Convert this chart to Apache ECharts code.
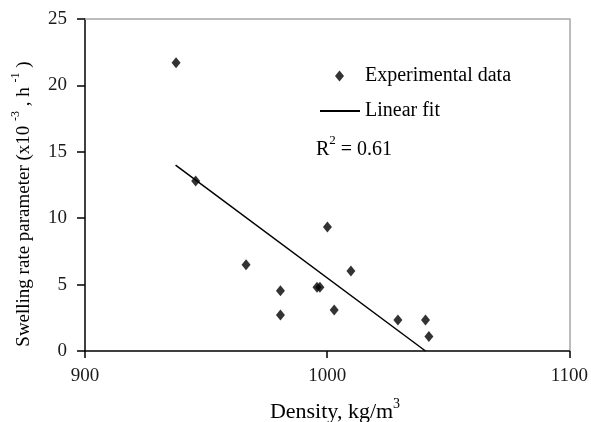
<!DOCTYPE html>
<html><head><meta charset="utf-8">
<script src="https://cdn.jsdelivr.net/npm/echarts@6/dist/echarts.min.js"></script>
<style>html,body{margin:0;padding:0;background:#fff}#c{width:591px;height:422px}</style>
</head><body><div id="c"></div>
<script>
const densities = [937.6, 945.7, 966.5, 980.7, 980.7, 995.8, 997.0, 1000.1, 1002.9, 1009.8, 1029.2, 1040.6, 1042.0];
const swelling  = [21.7, 12.8, 6.5, 4.54, 2.71, 4.8, 4.8, 9.34, 3.09, 6.02, 2.33, 2.33, 1.1];
const fitX = [937.4, 1040.6];
const fitY = [14.0, 0];
const xTicks = [900, 1000, 1100];
const yTicks = [0, 5, 10, 15, 20, 25];

const FONT = '"Liberation Serif", "Times New Roman", serif';
const chart = echarts.init(document.getElementById('c'), null, {renderer: 'canvas'});
chart.setOption({
  animation: false,
  backgroundColor: '#fff',
  textStyle: {fontFamily: FONT, color: '#000'},
  grid: {left: 85, right: 20, top: 19, bottom: 71},
  legend: [{
    orient: 'vertical', left: 330, top: 61, itemWidth: 9, itemHeight: 11,
    textStyle: {fontFamily: FONT, fontSize: 20, color: '#000', padding: [0, 0, 0, 16]},
    data: [{name: 'Experimental data', icon: 'diamond', itemStyle: {color: '#000'}}]
  }, {
    orient: 'vertical', left: 315, top: 96, itemWidth: 40, itemHeight: 2,
    textStyle: {fontFamily: FONT, fontSize: 20, color: '#000'},
    data: [{name: 'Linear fit', icon: 'rect', itemStyle: {color: '#000'}}]
  }],
  xAxis: [{
    type: 'value', min: xTicks[0], max: xTicks[xTicks.length - 1], interval: 100,
    axisLine: {lineStyle: {color: '#000', width: 1.5}},
    axisTick: {inside: false, length: 7, lineStyle: {color: '#000', width: 1.5}},
    axisLabel: {fontFamily: FONT, fontSize: 19, color: '#1a1a1a', margin: 16, formatter: v => String(v)},
    splitLine: {show: false}
  }, {
    type: 'value', position: 'top', min: 900, max: 1100,
    axisLine: {show: true, onZero: false, lineStyle: {color: '#a6a6a6', width: 1.5}},
    axisTick: {show: false}, axisLabel: {show: false}, splitLine: {show: false}
  }],
  yAxis: [{
    type: 'value', min: yTicks[0], max: yTicks[yTicks.length - 1], interval: 5,
    axisLine: {show: true, lineStyle: {color: '#000', width: 1.5}},
    axisTick: {show: true, inside: false, length: 8, lineStyle: {color: '#000', width: 1.5}},
    axisLabel: {fontFamily: FONT, fontSize: 19, color: '#1a1a1a', margin: 18, formatter: v => String(v)},
    splitLine: {show: false}
  }, {
    type: 'value', position: 'right', min: 0, max: 25,
    axisLine: {show: true, onZero: false, lineStyle: {color: '#a6a6a6', width: 1.5}},
    axisTick: {show: false}, axisLabel: {show: false}, splitLine: {show: false}
  }],
  series: [{
    name: 'Experimental data', type: 'scatter', symbol: 'diamond', symbolSize: [9, 11],
    itemStyle: {color: '#000'},
    data: densities.map((d, i) => [d, swelling[i]])
  }, {
    name: 'Linear fit', type: 'line', symbol: 'none', showSymbol: false, color: '#000',
    lineStyle: {color: '#000', width: 1.5},
    data: fitX.map((d, i) => [d, fitY[i]])
  }],
  graphic: [{
    type: 'text', left: 316, top: 134,
    style: {
      text: '{b|R}{s|2}{b| = 0.61}',
      rich: {
        b: {fontFamily: FONT, fontSize: 20, fill: '#000', verticalAlign: 'bottom', lineHeight: 26},
        s: {fontFamily: FONT, fontSize: 13, fill: '#000', verticalAlign: 'top', lineHeight: 26}
      }
    }
  }, {
    type: 'text', x: 335, y: 410,
    style: {
      text: '{b|Density, kg/m}{s|3}',
      align: 'center', verticalAlign: 'middle',
      rich: {
        b: {fontFamily: FONT, fontSize: 22, fill: '#000', verticalAlign: 'bottom', lineHeight: 26},
        s: {fontFamily: FONT, fontSize: 14, fill: '#000', verticalAlign: 'top', lineHeight: 26}
      }
    }
  }, {
    type: 'text', x: 22, y: 204, rotation: Math.PI / 2,
    style: {
      text: '{b|Swelling rate parameter (x10 }{s|-3}{b| , h }{s|-1}{b| )}',
      align: 'center', verticalAlign: 'middle',
      rich: {
        b: {fontFamily: FONT, fontSize: 19, fill: '#000', verticalAlign: 'bottom', lineHeight: 24},
        s: {fontFamily: FONT, fontSize: 12, fill: '#000', verticalAlign: 'top', lineHeight: 24}
      }
    }
  }]
});
</script></body></html>
